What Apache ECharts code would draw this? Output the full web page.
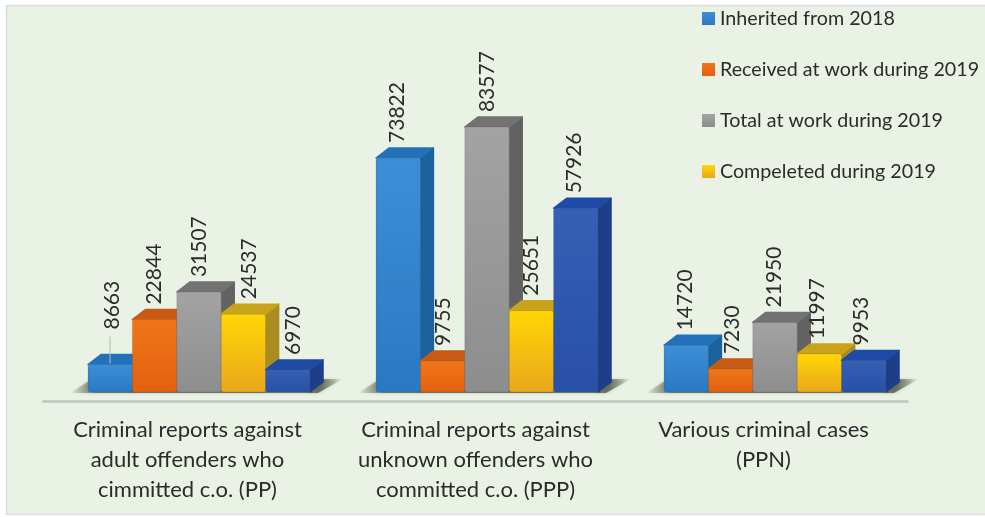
<!DOCTYPE html>
<html>
<head>
<meta charset="utf-8">
<title>Criminal reports 2019</title>
<script src="https://cdn.jsdelivr.net/npm/echarts@6/dist/echarts.min.js"></script>
<style>
    html, body { margin: 0; padding: 0; background: #fff; }
    #chart { width: 985px; height: 517px; }
</style>
</head>
<body>
<div id="chart"></div>
<script>
const categories = [
    "Criminal reports against\nadult offenders who\ncimmitted c.o. (PP)",
    "Criminal reports against\nunknown offenders who\ncommitted c.o. (PPP)",
    "Various criminal cases\n(PPN)",
];
const seriesNames = [
    "Inherited from 2018",
    "Received at work during 2019",
    "Total at work during 2019",
    "Compeleted during 2019",
    "Other",
];
const inherited = [8663, 73822, 14720];
const received = [22844, 9755, 7230];
const total = [31507, 83577, 21950];
const completed = [24537, 25651, 11997];
const other = [6970, 57926, 9953];

const FONT = "Lato, 'Open Sans', sans-serif";
const TEXT_COLOR = "#2b2b2b";
const BAR_W = 44.4;
const DEPTH_X = 13;
const DEPTH_Y = 10;
const GROUP_SHIFT = 11.5; // les barres sont décalées par rapport au libellé de catégorie
// décalage horizontal de l'étiquette depuis le bord gauche de la barre [série][catégorie]
const LABEL_SHIFT = [
    [24, 21, 21],
    [22, 23, 24],
    [22, 22, 21],
    [28, 22, 20],
    [28, 21, 20],
];

const palette = [
    { hi: "#3c8fd6", lo: "#2b78c2", top: "#2371bb", side: "#1b629f" },
    { hi: "#f0761a", lo: "#e4600f", top: "#c75a14", side: "#ad4c12" },
    { hi: "#a3a3a3", lo: "#8d8d8d", top: "#727272", side: "#626262" },
    { hi: "#ffd606", lo: "#eaa71c", top: "#c9a31b", side: "#a98c22" },
    { hi: "#3560b4", lo: "#2750a6", top: "#1f4ba6", side: "#1b3e88" },
];
const allValues = [inherited, received, total, completed, other];

const vertical = (hi, lo) => ({
    type: "linear", x: 0, y: 0, x2: 0, y2: 1,
    colorStops: [{ offset: 0, color: hi }, { offset: 1, color: lo }],
});

function barRenderer(k) {
    const c = palette[k];
    return (params, api) => {
        const cat = api.value(0);
        const val = api.value(1);
        const [cx, base] = api.coord([cat, 0]);
        const [, top] = api.coord([cat, val]);
        const x = cx + GROUP_SHIFT + (k - 2.5) * BAR_W;
        const right = x + BAR_W;

        const children = [
            {
                type: "polygon",
                shape: { points: [[right, base], [right, top], [right + DEPTH_X, top - DEPTH_Y], [right + DEPTH_X, base - DEPTH_Y]] },
                style: { fill: c.side, stroke: c.side, lineWidth: 1.5, lineJoin: "round" },
            },
            {
                type: "polygon",
                shape: { points: [[x, top], [x + DEPTH_X, top - DEPTH_Y], [right + DEPTH_X, top - DEPTH_Y], [right, top]] },
                style: { fill: c.top, stroke: c.top, lineWidth: 1.5, lineJoin: "round" },
            },
            {
                type: "rect",
                shape: { x, y: top, width: BAR_W, height: base - top, r: 2 },
                style: { fill: vertical(c.hi, c.lo), stroke: "rgba(90,90,80,0.35)", lineWidth: 0.6 },
            },
        ];

        // seul 8663 a son étiquette écartée, avec un trait de rappel
        const lifted = k === 0 && cat === 0;
        const labelX = x + LABEL_SHIFT[k][cat];
        const labelY = top - DEPTH_Y - (lifted ? 25 : 5);
        if (lifted) {
            children.push({
                type: "line",
                z2: 90,
                shape: { x1: labelX - 2, y1: top - 1, x2: labelX - 2, y2: labelY + 7 },
                style: { stroke: "#b5b8b2", lineWidth: 1 },
            });
        }
        children.push({
            type: "text",
            z2: 100,
            x: labelX,
            y: labelY,
            rotation: Math.PI / 2,
            style: {
                text: String(val),
                align: "left",
                verticalAlign: "middle",
                fill: TEXT_COLOR,
                font: `21px ${FONT}`,
            },
        });
        return { type: "group", children };
    };
}

// Ombre portée au sol, sous chaque groupe de barres
function shadowRenderer(params, api) {
    const cat = api.value(0);
    const [cx, base] = api.coord([cat, 0]);
    const x0 = cx + GROUP_SHIFT - 2.5 * BAR_W;
    const x1 = x0 + 5 * BAR_W;
    return {
        type: "polygon",
        shape: { points: [[x0 - 18, base + 1], [x0 + 4, base - 13], [x1 + 33, base - 13], [x1 + 8, base + 1]] },
        style: {
            shadowBlur: 3,
            shadowColor: "rgba(70,80,60,0.5)",
            fill: {
                type: "linear", x: 0, y: 0, x2: 1, y2: 0,
                colorStops: [
                    { offset: 0, color: "rgba(70,80,60,0)" },
                    { offset: 0.1, color: "rgba(70,80,60,0.7)" },
                    { offset: 0.92, color: "rgba(70,80,60,0.7)" },
                    { offset: 1, color: "rgba(70,80,60,0)" },
                ],
            },
        },
    };
}

const chart = echarts.init(document.getElementById("chart"));

chart.setOption({
    animation: false,
    backgroundColor: "#ffffff",
    graphic: [{
        type: "rect",
        silent: true,
        z: -10,
        shape: { x: 6.5, y: 5.5, width: 980, height: 509 },
        style: { fill: "#e9f2e4", stroke: "#dcdedb", lineWidth: 1.5 },
    }],
    grid: { left: 43.5, width: 864, top: 75, bottom: 125 },
    legend: {
        data: seriesNames.slice(0, 4),
        orient: "vertical",
        left: 702,
        top: 8,
        padding: 0,
        icon: "rect",
        itemWidth: 13,
        itemHeight: 13,
        itemGap: 30,
        itemStyle: { borderWidth: 0 },
        textStyle: { color: TEXT_COLOR, fontSize: 19.7, fontFamily: FONT, lineHeight: 21 },
        selectedMode: false,
    },
    xAxis: {
        type: "category",
        data: categories,
        offset: 9,
        axisTick: { show: false },
        axisLine: { onZero: false, lineStyle: { color: "#c6cbc5", width: 3 } },
        axisLabel: {
            color: TEXT_COLOR,
            fontSize: 22,
            fontFamily: FONT,
            lineHeight: 30,
            margin: 14,
            interval: 0,
        },
    },
    yAxis: { type: "value", min: 0, max: 100000, show: false },
    series: [
        {
            type: "custom",
            name: "shadow",
            z: 1,
            silent: true,
            renderItem: shadowRenderer,
            data: categories.map((_, i) => [i, 0]),
        },
        ...seriesNames.map((name, k) => ({
            type: "custom",
            name,
            z: 2,
            renderItem: barRenderer(k),
            itemStyle: { color: vertical(palette[k].hi, palette[k].lo) },
            encode: { x: 0, y: 1 },
            data: allValues[k].map((v, i) => [i, v]),
        })),
    ],
});
</script>
</body>
</html>
